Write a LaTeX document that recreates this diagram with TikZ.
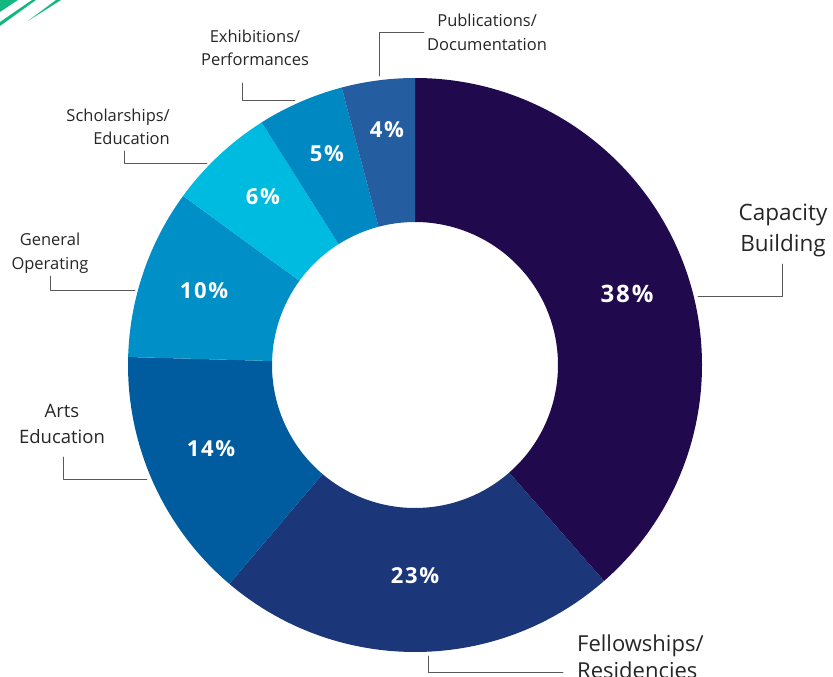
\documentclass[tikz,border=0pt]{standalone}
\usepackage{fontspec}
\setmainfont{Open Sans}
\newfontfamily\pctfont[LetterSpace=8]{Open Sans}
\definecolor{capcol}{RGB}{32,9,77}
\definecolor{fellcol}{RGB}{28,54,122}
\definecolor{artscol}{RGB}{0,92,158}
\definecolor{gencol}{RGB}{0,143,198}
\definecolor{scholcol}{RGB}{0,187,224}
\definecolor{exhcol}{RGB}{0,136,194}
\definecolor{pubcol}{RGB}{36,94,160}
\definecolor{stripecol}{RGB}{18,184,128}
\begin{document}
\begin{tikzpicture}[x=1pt,y=-1pt,line join=round,line cap=round]
	\tikzset{lbl/.style={text=black!85,align=center,inner sep=3pt,font=\fontsize{16.5}{23.5}\selectfont},
		pct/.style={text=white,font=\pctfont\bfseries\fontsize{22}{26}\selectfont},
		leader/.style={draw=black!65,line width=0.9pt}}
	\useasboundingbox (0,0) rectangle (833,677);
	% corner stripes
	\fill[stripecol] (0,0)--(18,0)--(0,12)--cycle;
	\fill[stripecol] (0,22)--(32,0)--(36,0)--(0,26)--cycle;
	\fill[stripecol] (28,21)--(56,0)--(61,0)--cycle;
	% ring
	\coordinate (ctr) at (415,365);
	\foreach \a/\b/\c in {-90/48.8/capcol,48.8/130.3/fellcol,130.3/181.6/artscol,181.6/216.1/gencol,216.1/237.7/scholcol,237.7/255.2/exhcol,255.2/270/pubcol}
	\fill[\c] ([shift={(\a:287)}]ctr) arc[start angle=\a,end angle=\b,radius=287] -- ([shift={(\b:143)}]ctr) arc[start angle=\b,end angle=\a,radius=143] -- cycle;
	% percentages
	\node[pct,font=\pctfont\bfseries\fontsize{24}{28}\selectfont] (p38) at (627,294) {38\%};
	\node[pct] (p23) at (415,576) {23\%};
	\node[pct] (p14) at (211,449) {14\%};
	\node[pct] (p10) at (204,291) {10\%};
	\node[pct] (p6) at (263,197) {6\%};
	\node[pct] (p5) at (327,154) {5\%};
	\node[pct] (p4) at (387,130) {4\%};
	% labels
	\node[lbl,font=\fontsize{22.5}{31}\selectfont] (cap) at (783,230) {Capacity\\Building};
	\node[lbl,font=\fontsize{22}{27}\selectfont,align=left,anchor=west] (fell) at (574,657) {Fellowships/\\Residencies};
	\node[lbl,font=\fontsize{18.5}{26}\selectfont] (arts) at (62,424) {Arts\\Education};
	\node[lbl,font=\fontsize{16.5}{24}\selectfont] (gen) at (50,253) {General\\Operating};
	\node[lbl,align=right,anchor=east] (schol) at (173,127) {Scholarships/\\Education};
	\node[lbl] (exh) at (255,48) {Exhibitions/\\Performances};
	\node[lbl,font=\fontsize{16.5}{24}\selectfont,anchor=west] (pub) at (424,32) {Publications/\\Documentation};
	% leaders
	\coordinate (capA) at (698,296);
	\coordinate (capB) at (782,264);
	\coordinate (fellA) at (428,656);
	\coordinate (fellB) at (563,672);
	\coordinate (artsA) at (147,479);
	\coordinate (artsB) at (63,457);
	\coordinate (genA) at (135,290);
	\coordinate (genB) at (50,276);
	\coordinate (scholA) at (207,163);
	\coordinate (scholB) at (124,151);
	\coordinate (exhA) at (295,100);
	\coordinate (exhB) at (242,83);
	\coordinate (pubA) at (379,76);
	\draw[leader] (capA) -| (capB);
	\draw[leader] (fellA) |- (fellB);
	\draw[leader] (artsA) -| (artsB);
	\draw[leader] (genA) -| (genB);
	\draw[leader] (scholA) -| (scholB);
	\draw[leader] (exhA) -| (exhB);
	\draw[leader] (pubA) |- (pub.west);
\end{tikzpicture}
\end{document}
